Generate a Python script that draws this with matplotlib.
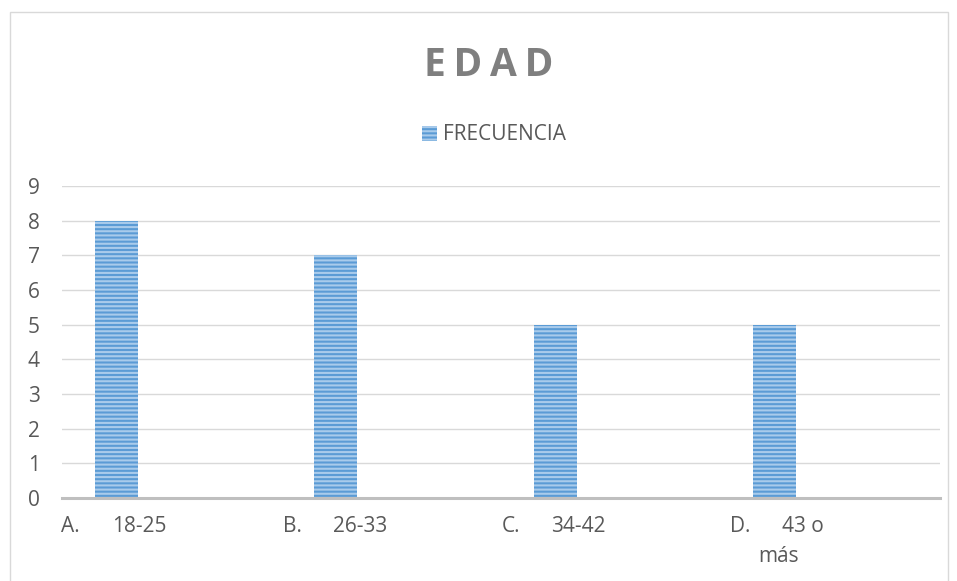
import matplotlib
matplotlib.use("Agg")
import matplotlib.pyplot as plt
from matplotlib.patches import Rectangle, Patch
import matplotlib.transforms as mtransforms

categories_letter = ["A.", "B.", "C.", "D."]
categories_range = ["18-25", "26-33", "34-42", "43 o\nmás"]
frecuencia = [8, 7, 5, 5]
yticks = list(range(0, 10))
title = "EDAD"
series_name = "FRECUENCIA"

plt.rcParams['font.family'] = ['Open Sans', 'DejaVu Sans']
plt.rcParams['hatch.linewidth'] = 1.5
text_color = "#595959"
bar_face = "#5B9BD5"
bar_hatch = "#A9CBEB"
fs = 15

fig = plt.figure(figsize=(9.57, 5.81), dpi=100)
fig.patch.set_facecolor("white")
# outer chart border (cropped at bottom)
fig.patches.append(Rectangle((10/957, -0.1), 938/957, 1.1 - 12/581, transform=fig.transFigure,
                             fill=False, edgecolor="#D9D9D9", linewidth=1.0))

ax = fig.add_axes([62/957, 1 - 498/581, 878/957, 312/581])
x = list(range(len(frecuencia)))
xb = [i - 0.252 for i in x]
ax.bar(xb, frecuencia, width=0.196, color=bar_face, edgecolor=bar_hatch,
       linewidth=0, hatch="----", zorder=3)

ax.set_xlim(-0.5, 3.5)
ax.set_ylim(0, 9)
ax.set_yticks(yticks)
ax.set_yticklabels([str(v) for v in yticks])
ax.tick_params(axis='y', length=0, pad=16, labelsize=fs, labelcolor=text_color)
ax.set_xticks([])
ax.yaxis.grid(True, color="#D9D9D9", linewidth=1.0, zorder=0)
for s in ["left", "right", "top"]:
    ax.spines[s].set_visible(False)
ax.spines["bottom"].set_color("#BFBFBF")
ax.spines["bottom"].set_linewidth(2.2)
ax.spines["bottom"].set_zorder(4)

trans = mtransforms.blended_transform_factory(ax.transData, fig.transFigure)
letter_off = [-0.505, -0.493, -0.495, -0.455]
range_off = [-0.27, -0.265, -0.27, -0.22]
for i, (l, r) in enumerate(zip(categories_letter, categories_range)):
    ax.text(x[i] + letter_off[i], 1 - 527/581, l, transform=trans, ha="left", va="center",
            fontsize=fs, color=text_color)
    if "\n" in r:
        first, second = r.split("\n")
        ax.text(x[i] + range_off[i], 1 - 527/581, first, transform=trans, ha="left", va="center",
                fontsize=fs, color=text_color)
        ax.text(x[i] - 0.33, 1 - 557/581, second, transform=trans, ha="left", va="center",
                fontsize=fs, color=text_color)
    else:
        ax.text(x[i] + range_off[i], 1 - 527/581, r, transform=trans, ha="left", va="center",
                fontsize=fs, color=text_color)

fig.text(489/957, 1 - 65/581, "\u2009".join(title), ha="center", va="center", fontsize=28,
         fontweight="bold", color="#7F7F7F")

handle = Patch(facecolor=bar_face, edgecolor=bar_hatch, hatch="----", linewidth=0)
leg = fig.legend([handle], [series_name], loc="center", bbox_to_anchor=(494/957, 1 - 135/581),
                 frameon=False, fontsize=fs, handlelength=0.7, handleheight=0.7, handletextpad=0.3,
                 labelcolor=text_color)

fig.savefig("out.png", dpi=100, facecolor="white")
